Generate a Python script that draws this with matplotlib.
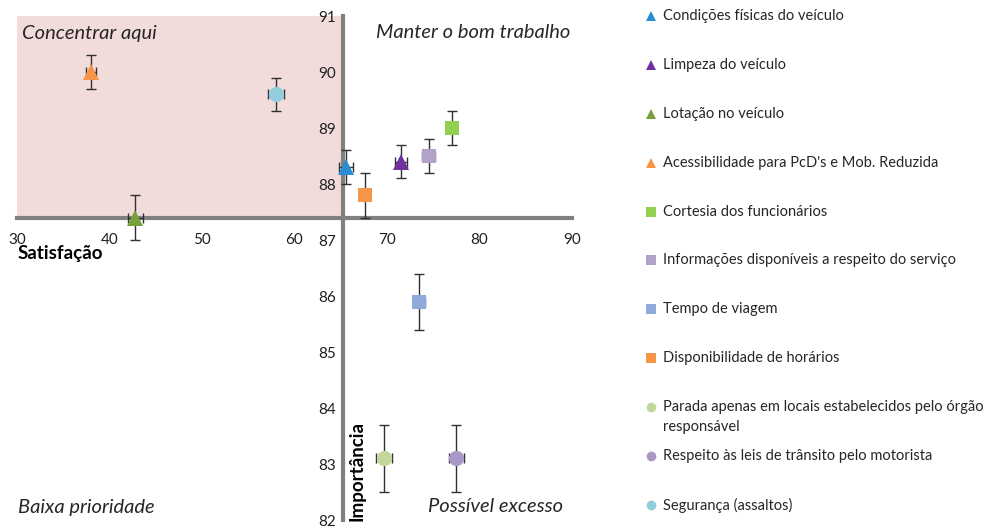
import matplotlib
matplotlib.use("Agg")
import matplotlib.pyplot as plt
from matplotlib.lines import Line2D

plt.rcParams['font.family'] = ['Lato', 'DejaVu Sans']

names = [
    "Condições físicas do veículo",
    "Limpeza do veículo",
    "Lotação no veículo",
    "Acessibilidade para PcD's e Mob. Reduzida",
    "Cortesia dos funcionários",
    "Informações disponíveis a respeito do serviço",
    "Tempo de viagem",
    "Disponibilidade de horários",
    "Parada apenas em locais estabelecidos pelo órgão\nresponsável",
    "Respeito às leis de trânsito pelo motorista",
    "Segurança (assaltos)",
]
satisfacao = [65.6, 71.5, 42.8, 38.0, 77.0, 74.5, 73.5, 67.6, 69.7, 77.5, 58.0]
importancia = [88.3, 88.4, 87.4, 90.0, 89.0, 88.5, 85.9, 87.8, 83.1, 83.1, 89.6]
importancia_err = [0.3, 0.3, 0.4, 0.3, 0.3, 0.3, 0.5, 0.4, 0.6, 0.6, 0.3]
satisfacao_err = [0.75, 0.65, 0.85, 0.55, 0.6, 0.7, 0.6, 0.6, 0.85, 0.85, 0.9]
markers = ['^', '^', '^', '^', 's', 's', 's', 's', 'o', 'o', 'o']
colors = ['#2a8dd4', '#7030a0', '#77a03c', '#f79646', '#92d050', '#b3a2c7',
          '#8eaadb', '#f79646', '#c3d69b', '#a997c7', '#93cddd']

x_ticks = [30, 40, 50, 60, 70, 80, 90]
y_ticks = [82, 83, 84, 85, 86, 87, 88, 89, 90, 91]
x_cross = 65.2
y_cross = 87.4

W, H = 993, 526
fig = plt.figure(figsize=(W / 100, H / 100), dpi=100)
ax = fig.add_axes([17 / W, 1 - 520 / H, (572 - 17) / W, (520 - 16) / H])
ax.set_xlim(x_ticks[0], x_ticks[-1])
ax.set_ylim(y_ticks[0], y_ticks[-1])

# quadrant shading
ax.fill_between([x_ticks[0], x_cross], y_cross, y_ticks[-1], color='#f2dcdb', zorder=0, lw=0)

for s in ['top', 'right']:
    ax.spines[s].set_visible(False)
ax.spines['left'].set_position(('data', x_cross))
ax.spines['bottom'].set_position(('data', y_cross))
for s in ['left', 'bottom']:
    ax.spines[s].set_linewidth(3)
    ax.spines[s].set_color('#808080')
    ax.spines[s].set_zorder(1)
ax.set_xticks(x_ticks)
ax.set_yticks(y_ticks)
ax.tick_params(axis='x', length=0, pad=11, labelsize=11, labelcolor='#202020')
ax.tick_params(axis='y', length=0, pad=5, labelsize=11, labelcolor='#202020')
ax.patch.set_alpha(0)

for i in range(len(names)):
    ax.errorbar(satisfacao[i], importancia[i], xerr=satisfacao_err[i], yerr=importancia_err[i],
                fmt='none', ecolor='#303030', elinewidth=1, capsize=3.6, capthick=1, zorder=3)
    ax.plot(satisfacao[i], importancia[i], linestyle='none', marker=markers[i],
            markersize=11 if markers[i] != 's' else 10.5, color=colors[i],
            markeredgewidth=0, zorder=4, clip_on=False)

# quadrant labels
qfont = dict(fontsize=14.5, style='italic', color='#262626')
fig.text(22 / W, 1 - 33 / H, "Concentrar aqui", ha='left', va='center', **qfont)
fig.text(570 / W, 1 - 33 / H, "Manter o bom trabalho", ha='right', va='center', **qfont)
fig.text(18 / W, 1 - 507 / H, "Baixa prioridade", ha='left', va='center', **qfont)
fig.text(563 / W, 1 - 507 / H, "Possível excesso", ha='right', va='center', **qfont)

fig.text(18 / W, 1 - 254 / H, "Satisfação", ha='left', va='center', fontsize=13.5,
         fontweight='bold', color='#000000')
fig.text(357 / W, 1 - 521 / H, "Importância", ha='center', va='bottom', rotation=90,
         fontsize=13.5, fontweight='bold', color='#000000')

# legend
for i, name in enumerate(names):
    yp_px = 16 + i * 48.9
    fig.add_artist(Line2D([651 / W], [1 - yp_px / H], marker=markers[i], linestyle='none',
                          markersize=7 if markers[i] != 's' else 6.5,
                          color=colors[i], markeredgewidth=0, transform=fig.transFigure))
    for k, line in enumerate(name.split('\n')):
        fig.text(663 / W, 1 - (yp_px + k * 19.5) / H, line, ha='left', va='center',
                 fontsize=10.5, color='#262626')

fig.savefig("out.png", dpi=100)
